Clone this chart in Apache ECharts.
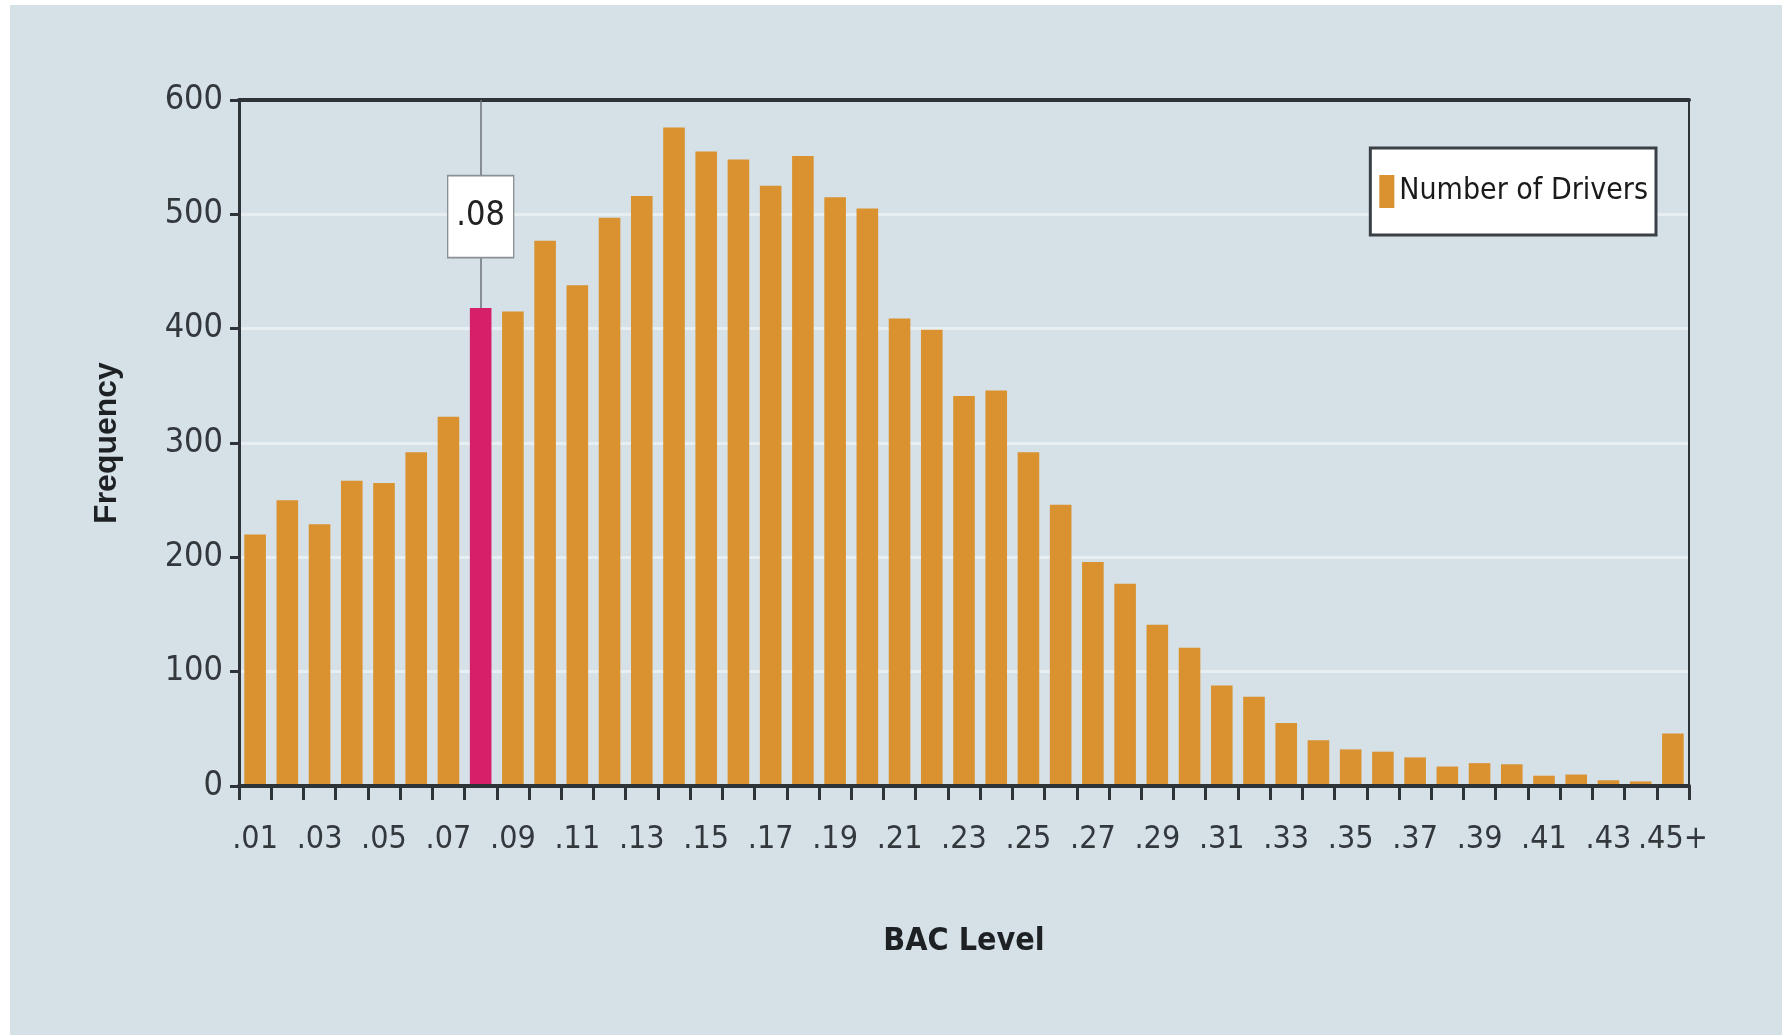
<!DOCTYPE html>
<html>
<head>
<meta charset="utf-8">
<title>BAC Level</title>
<script src="https://cdn.jsdelivr.net/npm/echarts@6/dist/echarts.min.js"></script>
<style>
  html, body { margin: 0; padding: 0; background: #fff; }
  #chart { width: 1787px; height: 1035px; }
</style>
</head>
<body>
<div id="chart"></div>
<script>
// BAC level categories (.01 ... .44, .45+)
var categories = ['.01', '.02', '.03', '.04', '.05', '.06', '.07', '.08', '.09', '.10',
  '.11', '.12', '.13', '.14', '.15', '.16', '.17', '.18', '.19', '.20',
  '.21', '.22', '.23', '.24', '.25', '.26', '.27', '.28', '.29', '.30',
  '.31', '.32', '.33', '.34', '.35', '.36', '.37', '.38', '.39', '.40',
  '.41', '.42', '.43', '.44', '.45+'];

// number of drivers per BAC level
var drivers = [220, 250, 229, 267, 265, 292, 323, 418, 415, 477,
  438, 497, 516, 576, 555, 548, 525, 551, 515, 505,
  409, 399, 341, 346, 292, 246, 196, 177, 141, 121,
  88, 78, 55, 40, 32, 30, 25, 17, 20, 19,
  9, 10, 5, 4, 46];

var yTicks = [0, 100, 200, 300, 400, 500, 600];
var legalLimit = '.08';

var narrow = "'Liberation Sans Narrow', 'DejaVu Sans Condensed', 'Roboto Condensed', 'Arial Narrow', sans-serif";
var orange = '#d9922f';
var magenta = '#d61f69';
var axisDark = '#2e3338';

var limitIdx = categories.indexOf(legalLimit);
var barData = drivers.map(function (v, i) {
  if (i === limitIdx) return { value: v, itemStyle: { color: magenta } };
  return v;
});

var chart = echarts.init(document.getElementById('chart'));
chart.setOption({
  backgroundColor: '#fff',
  animation: false,
  graphic: [{
    type: 'rect',
    z: -10,
    silent: true,
    shape: { x: 10, y: 5, width: 1772, height: 1030 },
    style: { fill: '#d5e0e7' }
  }],
  legend: {
    data: ['Number of Drivers'],
    right: 131,
    top: 148,
    backgroundColor: '#fff',
    borderColor: '#3a4045',
    borderWidth: 3,
    padding: [27, 8, 27, 9],
    itemWidth: 15,
    itemHeight: 33,
    itemGap: 6,
    icon: 'rect',
    textStyle: { fontFamily: narrow, fontSize: 30, color: '#1a1a1a' }
  },
  grid: { left: 239, top: 100, width: 1450, height: 686 },
  xAxis: [{
    type: 'category',
    data: categories,
    z: 3,
    axisLine: { lineStyle: { color: axisDark, width: 4 } },
    axisTick: { show: true, interval: 0, length: 14, lineStyle: { color: axisDark, width: 3 } },
    axisLabel: { interval: 1, margin: 38, hideOverlap: false, fontFamily: narrow, fontSize: 32, color: '#33383c' },
    splitLine: { show: false },
    name: 'BAC Level',
    nameLocation: 'middle',
    nameGap: 140,
    nameTextStyle: { fontFamily: narrow, fontWeight: 'bold', fontSize: 32, color: '#1e2124' }
  }, {
    type: 'category',
    data: categories,
    position: 'top',
    z: 3,
    axisLine: { onZero: false, lineStyle: { color: axisDark, width: 4 } },
    axisTick: { show: false },
    axisLabel: { show: false }
  }],
  yAxis: [{
    type: 'value',
    min: yTicks[0],
    max: yTicks[yTicks.length - 1],
    interval: 100,
    axisLine: { show: true, lineStyle: { color: axisDark, width: 3 } },
    axisTick: { show: true, length: 9, lineStyle: { color: axisDark, width: 3 } },
    axisLabel: { margin: 16, fontFamily: narrow, fontSize: 34, color: '#33383c' },
    splitLine: { show: true, lineStyle: { color: '#e8eff3', width: 3 } },
    name: 'Frequency',
    nameLocation: 'middle',
    nameGap: 116,
    nameTextStyle: { fontFamily: "'Liberation Sans', Arial, sans-serif", fontWeight: 'bold', fontSize: 32, color: '#1e2124' }
  }, {
    type: 'value',
    position: 'right',
    min: yTicks[0],
    max: yTicks[yTicks.length - 1],
    interval: 100,
    axisLine: { show: true, onZero: false, lineStyle: { color: axisDark, width: 2 } },
    axisTick: { show: false },
    axisLabel: { show: false },
    splitLine: { show: false }
  }],
  series: [{
    name: 'Number of Drivers',
    type: 'bar',
    data: barData,
    barCategoryGap: '33%',
    itemStyle: { color: orange },
    markLine: {
      silent: true,
      symbol: 'none',
      label: { show: false },
      lineStyle: { color: '#6b7278', width: 1.5, type: 'solid' },
      data: [[
        { coord: [legalLimit, yTicks[yTicks.length - 1]] },
        { coord: [legalLimit, drivers[limitIdx]] }
      ]]
    },
    markPoint: {
      silent: true,
      symbol: 'rect',
      symbolSize: [66, 82],
      itemStyle: { color: '#fff', borderColor: '#8a9096', borderWidth: 1.5 },
      label: { show: true, formatter: legalLimit, fontFamily: narrow, fontSize: 34, color: '#222' },
      data: [{ coord: [legalLimit, 498] }]
    }
  }]
});
</script>
</body>
</html>
